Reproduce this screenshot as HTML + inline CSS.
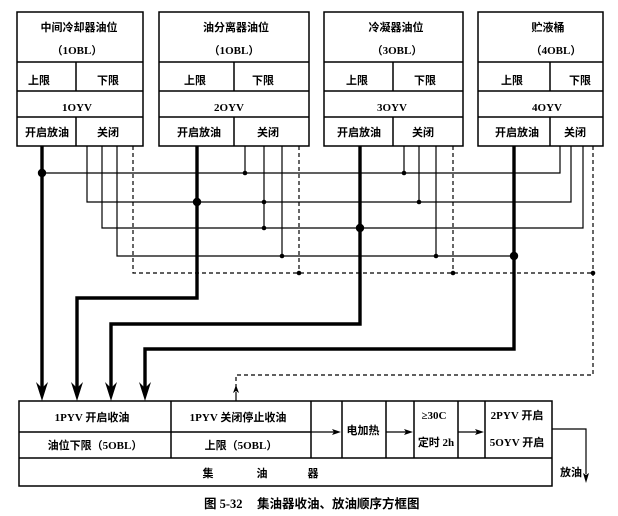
<!DOCTYPE html>
<html><head><meta charset="utf-8"><style>
html,body{margin:0;padding:0;background:#fff;}
svg{display:block;}
text{font-family:"Liberation Serif","Noto Sans CJK SC",serif;font-size:11px;fill:#000;font-weight:bold;}
</style></head><body>
<svg width="618" height="516" viewBox="0 0 618 516" xmlns="http://www.w3.org/2000/svg">
<rect width="618" height="516" fill="#fff"/>
<g fill="none" stroke="#000" stroke-width="1.5">
<rect x="17" y="12" width="126" height="134"/>
<line x1="17" y1="62" x2="143" y2="62"/><line x1="17" y1="91" x2="143" y2="91"/><line x1="17" y1="117" x2="143" y2="117"/>
<line x1="76" y1="62" x2="76" y2="91"/><line x1="76" y1="117" x2="76" y2="146"/>
<rect x="159" y="12" width="150" height="134"/>
<line x1="159" y1="62" x2="309" y2="62"/><line x1="159" y1="91" x2="309" y2="91"/><line x1="159" y1="117" x2="309" y2="117"/>
<line x1="234" y1="62" x2="234" y2="91"/><line x1="234" y1="117" x2="234" y2="146"/>
<rect x="324" y="12" width="139" height="134"/>
<line x1="324" y1="62" x2="463" y2="62"/><line x1="324" y1="91" x2="463" y2="91"/><line x1="324" y1="117" x2="463" y2="117"/>
<line x1="393" y1="62" x2="393" y2="91"/><line x1="393" y1="117" x2="393" y2="146"/>
<rect x="478" y="12" width="125" height="134"/>
<line x1="478" y1="62" x2="603" y2="62"/><line x1="478" y1="91" x2="603" y2="91"/><line x1="478" y1="117" x2="603" y2="117"/>
<line x1="550" y1="62" x2="550" y2="91"/><line x1="550" y1="117" x2="550" y2="146"/>
<rect x="19" y="401" width="533" height="85"/>
<line x1="19" y1="432" x2="311" y2="432"/>
<line x1="19" y1="458" x2="552" y2="458"/>
<line x1="171" y1="401" x2="171" y2="458"/>
<line x1="311" y1="401" x2="311" y2="458"/>
<line x1="342" y1="401" x2="342" y2="458"/>
<line x1="386" y1="401" x2="386" y2="458"/>
<line x1="414" y1="401" x2="414" y2="458"/>
<line x1="458" y1="401" x2="458" y2="458"/>
<line x1="485" y1="401" x2="485" y2="458"/>
</g>

<g fill="none" stroke="#000" stroke-width="1.2">
<polyline points="42,173 560,173 560,146"/>
<polyline points="87,146 87,202 571,202 571,146"/>
<polyline points="102,146 102,228 583,228 583,146"/>
<polyline points="117,146 117,256 514,256"/>
<line x1="245" y1="146" x2="245" y2="173"/>
<line x1="264" y1="146" x2="264" y2="228"/>
<line x1="282" y1="146" x2="282" y2="256"/>
<line x1="404" y1="146" x2="404" y2="173"/>
<line x1="419" y1="146" x2="419" y2="202"/>
<line x1="436" y1="146" x2="436" y2="256"/>
<line x1="311" y1="432" x2="334" y2="432"/>
<line x1="386" y1="432" x2="406" y2="432"/>
<line x1="458" y1="432" x2="477" y2="432"/>
<polyline points="552,429 586,429 586,474"/>
<line x1="236" y1="392" x2="236" y2="401"/>
</g>
<g fill="none" stroke="#000" stroke-width="1.2" stroke-dasharray="4,3">
<polyline points="133,146 133,273 593,273"/>
<line x1="299" y1="146" x2="299" y2="273"/>
<line x1="453" y1="146" x2="453" y2="273"/>
<polyline points="593,146 593,375 236,375 236,388"/>
</g>
<g fill="none" stroke="#000" stroke-width="3.4" stroke-linejoin="miter">
<line x1="42" y1="146" x2="42" y2="388"/>
<polyline points="197,146 197,298 77,298 77,388"/>
<polyline points="360,146 360,324 111,324 111,388"/>
<polyline points="514,146 514,349 145,349 145,388"/>
</g>
<g fill="#000">
<polygon points="42,401 36,382 42,388 48,382"/>
<polygon points="77,401 71,382 77,388 83,382"/>
<polygon points="111,401 105,382 111,388 117,382"/>
<polygon points="145,401 139,382 145,388 151,382"/>
<polygon points="236,385 233,393 236,391 239,393"/>
<polygon points="341,432 332,429 334,432 332,435"/>
<polygon points="413,432 404,429 406,432 404,435"/>
<polygon points="484,432 475,429 477,432 475,435"/>
<polygon points="586,483 583,473 586,475 589,473"/>
<circle cx="42" cy="173" r="4.2"/>
<circle cx="197" cy="202" r="4.2"/>
<circle cx="360" cy="228" r="4.2"/>
<circle cx="514" cy="256" r="4.2"/>
<circle cx="245" cy="173" r="2.3"/>
<circle cx="404" cy="173" r="2.3"/>
<circle cx="264" cy="202" r="2.3"/>
<circle cx="419" cy="202" r="2.3"/>
<circle cx="264" cy="228" r="2.3"/>
<circle cx="282" cy="256" r="2.3"/>
<circle cx="436" cy="256" r="2.3"/>
<circle cx="299" cy="273" r="2.3"/>
<circle cx="453" cy="273" r="2.3"/>
<circle cx="593" cy="273" r="2.3"/>
</g>

<g text-anchor="middle">
<text x="79" y="31">中间冷却器油位</text>
<text x="77" y="54">（1OBL）</text>
<text x="39" y="84">上限</text>
<text x="108" y="84">下限</text>
<text x="77" y="111">1OYV</text>
<text x="47" y="136">开启放油</text>
<text x="108" y="136">关闭</text>

<text x="236" y="31">油分离器油位</text>
<text x="234" y="54">（1OBL）</text>
<text x="195" y="84">上限</text>
<text x="263" y="84">下限</text>
<text x="229" y="111">2OYV</text>
<text x="199" y="136">开启放油</text>
<text x="268" y="136">关闭</text>

<text x="396" y="31">冷凝器油位</text>
<text x="397" y="54">（3OBL）</text>
<text x="357" y="84">上限</text>
<text x="425" y="84">下限</text>
<text x="392" y="111">3OYV</text>
<text x="359" y="136">开启放油</text>
<text x="423" y="136">关闭</text>

<text x="548" y="31">贮液桶</text>
<text x="556" y="54">（4OBL）</text>
<text x="512" y="84">上限</text>
<text x="580" y="84">下限</text>
<text x="547" y="111">4OYV</text>
<text x="517" y="136">开启放油</text>
<text x="575" y="136">关闭</text>

<text x="92" y="421">1PYV 开启收油</text>
<text x="95" y="449">油位下限（5OBL）</text>
<text x="238" y="421">1PYV 关闭停止收油</text>
<text x="241" y="449">上限（5OBL）</text>
<text x="363" y="434">电加热</text>
<text x="434" y="419">≥30C</text>
<text x="436" y="446">定时 2h</text>
<text x="517" y="419">2PYV 开启</text>
<text x="517" y="446">5OYV 开启</text>
<text x="208" y="477">集</text>
<text x="262" y="477">油</text>
<text x="313" y="477">器</text>
</g>
<text x="560" y="476">放油</text>
<text x="204" y="508" style="font-size:12.5px;font-family:'Liberation Serif','Noto Sans CJK SC',serif;">图 5-32</text>
<text x="257" y="508" style="font-size:12.5px;font-family:'Liberation Serif','Noto Sans CJK SC',serif;">集油器收油、放油顺序方框图</text>
</svg>
</body></html>
